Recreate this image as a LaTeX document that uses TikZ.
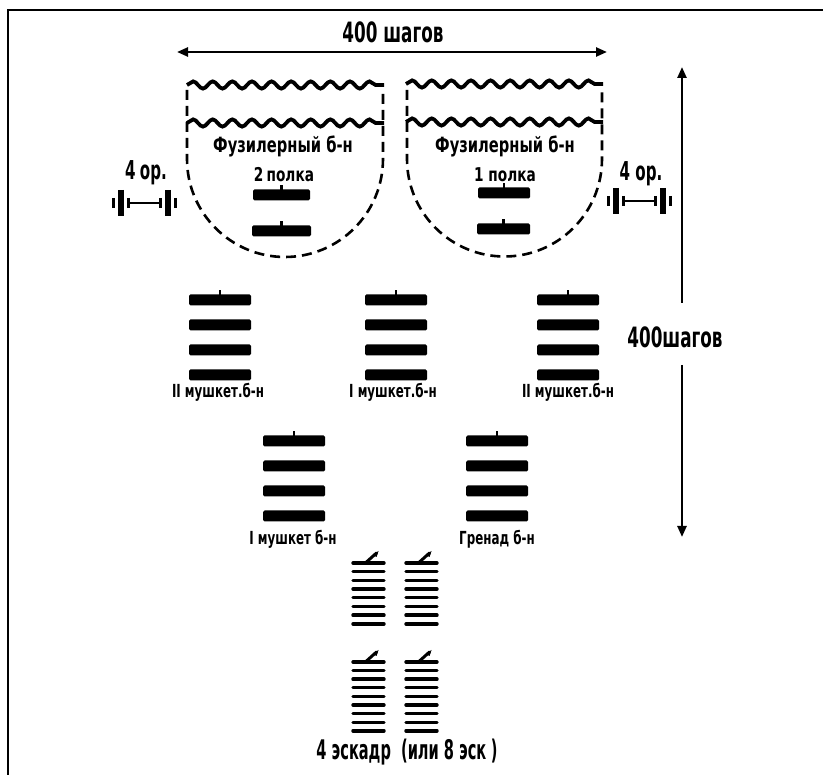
\documentclass[tikz,border=0pt]{standalone}
\usepackage{fontspec}
\setmainfont{DejaVu Sans}
\newfontfamily\fA{DejaVu Sans}[FakeStretch=0.6]
\newfontfamily\fC{DejaVu Sans}[FakeStretch=0.58]
\newfontfamily\fB{DejaVu Sans}[FakeStretch=0.7]
\newfontfamily\fD{DejaVu Sans}[FakeStretch=0.72]
\newfontfamily\fF{DejaVu Sans}[FakeStretch=0.66]
\newfontfamily\fE{DejaVu Sans}[FakeStretch=0.54]
\usetikzlibrary{arrows.meta,decorations.pathmorphing}
\newcommand{\battblock}[2]{% #1 = centre x, #2 = top bar centre y
  \foreach \k in {0,1,2,3}{
    \fill[barblk] ({#1-31},{#2+25*\k-5.5}) rectangle ({#1+31},{#2+25*\k+5.5});
  }
  \draw[tickln] (#1,{#2-5}) -- (#1,{#2-10});
}
\newcommand{\smallbar}[3]{% #1 = x left, #2 = x right, #3 = centre y
  \fill[barblk] (#1,{#3-5.5}) rectangle (#2,{#3+5.5});
  \draw[tickln] ({(#1+#2)/2},{#3-5}) -- ({(#1+#2)/2},{#3-10});
}
\newcommand{\gunsym}[3]{% #1 = wheel1 x, #2 = wheel2 x, #3 = y
  \foreach \w in {#1,#2}{
    \draw[line width=5.5pt] (\w,{#3-13}) -- (\w,{#3+13});
    \draw[line width=2.6pt] ({\w-7.5},{#3-5}) -- ({\w-7.5},{#3+5});
    \draw[line width=2.6pt] ({\w+7.5},{#3-5}) -- ({\w+7.5},{#3+5});
  }
  \draw[line width=2pt] ({#1+8},#3) -- ({#2-8},#3);
}
\newcommand{\squad}[5]{% #1 = x left, #2 = x right, #3 = top y, #4 = number of lines, #5 = spacing
  \foreach \k in {1,...,#4}{
    \draw[sqln] (#1,{#3+#5*(\k-1)}) -- (#2,{#3+#5*(\k-1)});
  }
  \draw[line width=3pt,line cap=round] ({(#1+#2)/2-2},{#3-1}) -- ({(#1+#2)/2+8},{#3-10});
  \fill ({(#1+#2)/2+4},{#3-8}) -- ({(#1+#2)/2+10},{#3-12}) -- ({(#1+#2)/2+8},{#3-6}) -- cycle;
}
\begin{document}
\begin{tikzpicture}[x=1pt,y=-1pt,
  >={Triangle[length=11pt,width=9pt]},
  wave/.style={line width=3.8pt, decorate, decoration={snake, segment length=19.6pt, amplitude=3.6pt}},
  outline/.style={line width=2.6pt, dash pattern=on 10pt off 6pt},
  barblk/.style={fill=black, rounded corners=1.5pt},
  tickln/.style={line width=2.4pt},
  sqln/.style={line width=3.4pt, line cap=round},
  dim/.style={line width=2.4pt},
  bigtxt/.style={inner sep=0pt, font=\fA\bfseries\fontsize{28}{30}\selectfont},
  gunlbl/.style={inner sep=0pt, font=\fC\bfseries\fontsize{26}{28}\selectfont},
  fuslbl/.style={inner sep=0pt, font=\fB\bfseries\fontsize{21}{23}\selectfont},
  regtxt/.style={inner sep=0pt, font=\fD\bfseries\fontsize{19}{21}\selectfont},
  battlbl/.style={inner sep=0pt, font=\fF\bfseries\fontsize{18}{20}\selectfont},
  bottxt/.style={inner sep=0pt, font=\fE\bfseries\fontsize{27}{29}\selectfont}
]
\useasboundingbox (0,0) rectangle (823,775);
% frame
\draw[line width=2pt] (8,775) -- (8,10) -- (823,10);

% top dimension
\node[bigtxt] (toptxt) at (393,32) {400 шагов};
\coordinate (hl) at (177,52);
\coordinate (hr) at (607,52);
\draw[dim,<->] (hl) -- (hr);

% right dimension
\coordinate (vt) at (682,67);
\coordinate (vm1) at (682,303);
\coordinate (vm2) at (682,365);
\coordinate (vb) at (682,537);
\node[bigtxt] (vtxt) at (675,337) {400шагов};
\draw[dim,->] (vm1) -- (vt);
\draw[dim,->] (vm2) -- (vb);

% left bowl
\draw[outline] (187,90) -- (187,159) arc[start angle=180, end angle=0, radius=98] -- (383,90);
\draw[wave] (187,85) -- (384,85);
\draw[wave] (187,123) -- (384,123);
\node[fuslbl] (fus2) at (283,146) {Фузилерный б-н};
\node[regtxt] (reg2) at (284,175) {2\,полка};
\smallbar{253}{310}{195}
\smallbar{252}{311}{231}

% right bowl
\draw[outline] (407,90) -- (407,159) arc[start angle=180, end angle=0, radius=97.5] -- (602,90);
\draw[wave] (406,84) -- (603,84);
\draw[wave] (406,122) -- (603,122);
\node[fuslbl] (fus1) at (505,146) {Фузилерный б-н};
\node[regtxt] (reg1) at (505,175) {1 полка};
\smallbar{478}{530}{193}
\smallbar{477}{530}{229}

% guns
\node[gunlbl] (gunL) at (146,173) {4\,ор.};
\gunsym{121}{168}{203}
\node[gunlbl] (gunR) at (641,174) {4 ор.};
\gunsym{616}{663}{201}

% first line of battalions
\battblock{220}{300}
\battblock{396}{300}
\battblock{568}{300}
\node[battlbl] (b1) at (218,392) {II мушкет.б-н};
\node[battlbl] (b2) at (393,392) {I мушкет.б-н};
\node[battlbl] (b3) at (568,392) {II мушкет.б-н};

% second line of battalions
\battblock{294}{441}
\battblock{497}{441}
\node[battlbl] (b4) at (293,539) {I мушкет б-н};
\node[battlbl] (b5) at (497,539) {Гренад б-н};

% squadrons
\squad{353}{384}{563}{8}{8.7}
\squad{406}{437}{563}{8}{8.7}
\squad{353}{384}{662}{9}{8.6}
\squad{406}{437}{662}{9}{8.6}
\node[bottxt] (cav) at (407,752) {4 эскадр\ \ (или 8 эск\,)};
\end{tikzpicture}
\end{document}
